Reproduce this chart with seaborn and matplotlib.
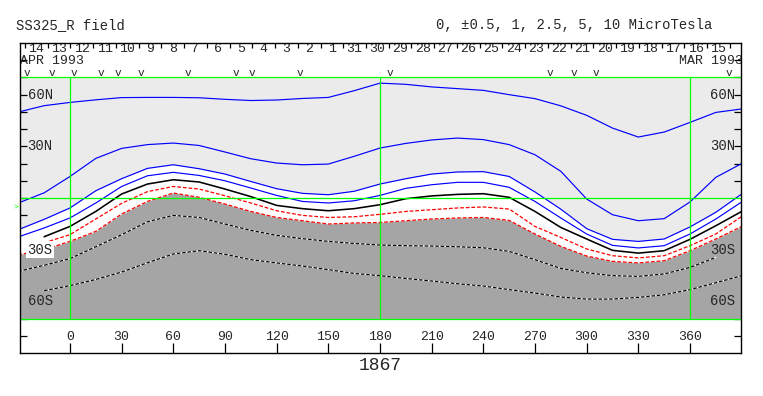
import numpy as np
import seaborn as sns
import matplotlib
matplotlib.use("Agg")
import matplotlib.pyplot as plt

sns.set_style("white")
plt.rcParams['font.family'] = ['Liberation Mono', 'DejaVu Sans Mono']

nan = np.nan

# Carrington longitude of the samples (deg), map wraps a bit on each side
LON = list(range(-30, 391, 15))

# contour lines (latitude, deg)
pos_5 = [49.9, 53.6, 55.5, 57.0, 58.3, 58.4, 58.4, 58.2, 57.3, 56.6, 56.9, 57.8, 58.4, 62.3, 66.7,
         66.0, 64.5, 63.5, 62.5, 60.0, 57.7, 53.5, 48.0, 40.6, 35.4, 38.3, 43.9, 49.7, 51.7]
pos_2_5 = [-2.9, 3.0, 12.5, 23.0, 28.8, 31.0, 31.9, 30.5, 26.7, 22.8, 20.3, 19.3, 19.7, 24.2, 29.0,
           31.7, 33.7, 34.8, 33.9, 31.0, 25.1, 15.5, -0.6, -9.7, -13.2, -12.0, -2.3, 12.0, 20.0]
pos_1 = [-18.4, -12.4, -5.8, 4.2, 11.2, 17.2, 19.3, 17.0, 13.9, 9.6, 5.4, 2.7, 1.9, 3.9, 8.1,
         11.2, 13.9, 15.1, 15.3, 12.5, 3.5, -6.5, -17.8, -24.0, -25.2, -23.8, -16.8, -8.3, 2.3]
pos_0_5 = [-22.6, -17.4, -11.6, -2.9, 6.7, 12.9, 14.9, 13.1, 10.0, 5.8, 1.5, -2.0, -2.9, -1.6, 1.5,
           5.6, 7.7, 9.1, 9.1, 6.2, -2.0, -11.6, -20.9, -27.5, -29.0, -27.7, -20.9, -12.2, -2.3]
neutral = [nan, -22.5, -16.5, -7.8, 2.3, 8.1, 10.6, 9.3, 5.2, 0.8, -4.3, -6.2, -7.4, -6.2, -3.9,
           -0.4, 1.2, 2.1, 2.5, 0.4, -7.8, -17.1, -23.8, -30.4, -32.0, -30.6, -24.0, -16.1, -7.8]
neg_0_5 = [nan, -26.0, -21.3, -12.2, -3.1, 3.7, 6.7, 5.2, 1.3, -2.9, -7.4, -10.1, -11.3, -10.9, -9.5,
           -7.8, -6.8, -5.8, -5.2, -6.4, -16.5, -22.9, -29.6, -33.5, -34.8, -33.5, -27.7, -20.9, -10.7]
neg_1 = [-33.0, -30.0, -25.2, -19.4, -9.3, -2.0, 2.9, 0.4, -3.5, -7.8, -11.3, -13.2, -15.1, -14.5, -14.2,
         -13.2, -12.2, -11.6, -11.3, -13.0, -20.9, -28.1, -33.7, -36.8, -37.7, -36.4, -30.6, -23.8, -16.5]
neg_2_5 = [-42.6, -39.1, -35.2, -28.3, -21.3, -13.8, -10.1, -11.3, -15.1, -18.8, -21.7, -23.6, -25.2, -26.4, -27.3,
           -27.7, -27.9, -28.3, -28.9, -31.0, -35.8, -40.9, -43.4, -45.1, -45.5, -44.1, -40.3, -34.5, nan]
neg_5 = [nan, -53.8, -50.9, -47.3, -43.0, -37.6, -32.5, -30.6, -32.7, -35.8, -37.7, -39.5, -41.6, -43.8, -45.1,
         -46.7, -48.2, -49.8, -51.1, -53.2, -55.2, -57.5, -58.7, -58.7, -57.7, -56.2, -53.2, -49.2, -45.1]

X_TICKS = list(range(0, 361, 30))
LAT_LABELS = {60: '60N', 30: '30N', -30: '30S', -60: '60S'}

# dates along the top (time runs right to left)
DAY_LABELS = ['14', '13', '12', '11', '10', '9', '8', '7', '6', '5', '4', '3', '2', '1', '31',
              '30', '29', '28', '27', '26', '25', '24', '23', '22', '21', '20', '19', '18', '17', '16', '15']
DAY0_LON = -26.1
DEG_PER_DAY = 360 / 27.2753
OBS_LON = [-25.1, -10.6, 2.5, 18.0, 28.0, 41.2, 68.3, 96.4, 105.5, 133.5, 185.8, 278.7, 292.6, 305.4, 382.6]
B0 = -5
ROTATION = '1867'

GREEN = '#00FF00'

fig = plt.figure(figsize=(7.63, 3.96), dpi=100)
ax = fig.add_axes([20 / 763, 43 / 396, 721 / 763, 310 / 396])
ax.set_xlim(-29.0, 389.6)
ax.set_ylim(-90, 90)

# shading: |B| > 1 grey, in between white
ax.axhspan(-70, 70, color='#EBEBEB', lw=0, zorder=0)
ax.fill_between(LON, neg_1, pos_1, color='white', lw=0, zorder=1)
ax.fill_between(LON, -70, neg_1, color='#A5A5A5', lw=0, zorder=1)

for y in [pos_5, pos_2_5, pos_1, pos_0_5]:
    sns.lineplot(x=LON, y=y, color='#0000FF', lw=0.85, ax=ax, zorder=2)
sns.lineplot(x=LON, y=neutral, color='black', lw=1.15, ax=ax, zorder=2)
for y in [neg_0_5, neg_1]:
    sns.lineplot(x=LON, y=y, color='#FF0000', lw=0.9, linestyle=(0, (3, 1.5)), ax=ax, zorder=2)
for y in [neg_2_5, neg_5]:
    sns.lineplot(x=LON, y=y, color='white', lw=0.85, ax=ax, zorder=2)
    sns.lineplot(x=LON, y=y, color='black', lw=0.85, linestyle=(0, (3, 1.5)), ax=ax, zorder=2)

# grid lines in green
for lat in [70, 0, -70]:
    ax.axhline(lat, color=GREEN, lw=0.9, zorder=3)
ax.vlines([0, 180, 360], -70, 70, color=GREEN, lw=0.9, zorder=3)

# axes ticks
ax.set_xticks(X_TICKS)
ax.set_xticklabels([])
ax.set_yticks(list(range(-80, 81, 10)))
ax.set_yticklabels([])
ax.tick_params(axis='x', direction='in', length=7, width=0.9, color='black',
               bottom=True, top=False, labelbottom=False)
ax.tick_params(axis='y', direction='in', length=5, width=0.9, color='black',
               left=True, right=True, labelleft=False)
for sp in ax.spines.values():
    sp.set_color('black')
    sp.set_linewidth(1)
    sp.set_zorder(5)
ax.set_xlabel('')
ax.set_ylabel('')

for lat, lab in LAT_LABELS.items():
    box = dict(facecolor='white', edgecolor='none', pad=1) if lat == -30 else None
    ax.text(-24.6, lat, lab, ha='left', va='center', fontsize=10, bbox=box, zorder=4)
    ax.text(386.1, lat, lab, ha='right', va='center', fontsize=10, zorder=4)

for lon in X_TICKS:
    ax.text(lon, -80.5, str(lon), ha='center', va='center', fontsize=9.5)

# date band at the top
for k in range(len(DAY_LABELS) + 1):
    ax.vlines(DAY0_LON + k * DEG_PER_DAY, 87, 90, color='black', lw=0.9)
for k, lab in enumerate(DAY_LABELS):
    ax.text(DAY0_LON + (k + 0.5) * DEG_PER_DAY, 86.6, lab, ha='center', va='center', fontsize=9.5)
ax.text(-29.0, 79.3, 'APR 1993', ha='left', va='center', fontsize=9.5)
ax.text(390.6, 79.3, 'MAR 1993', ha='right', va='center', fontsize=9.5, clip_on=True)
for lon in OBS_LON:
    ax.text(lon, 72.6, 'v', ha='center', va='center', fontsize=8)

ax.text(-31.3, B0, '>', color=GREEN, fontsize=6, ha='center', va='center', clip_on=False)
ax.text(180, -97.4, ROTATION, ha='center', va='center', fontsize=13, clip_on=False)

fig.text(16 / 763, 1 - 25 / 396, 'SS325_R field', ha='left', va='center', fontsize=10)
fig.text(712 / 763, 1 - 25 / 396, '0, \u00b10.5, 1, 2.5, 5, 10 MicroTesla', ha='right', va='center', fontsize=10)

fig.savefig('out.png', dpi=100)
